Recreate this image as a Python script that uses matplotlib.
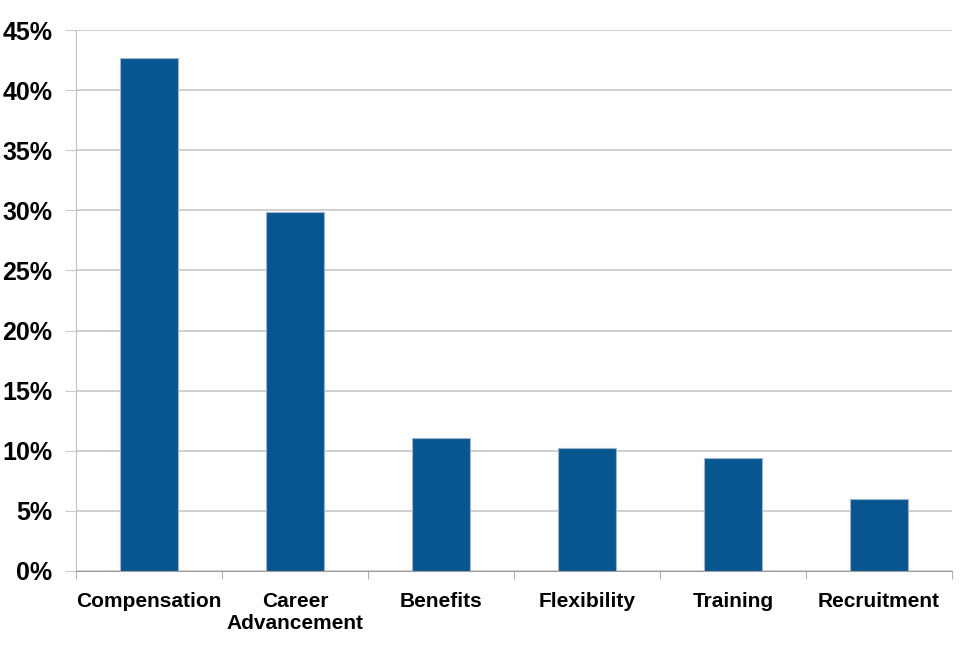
import numpy as np
import matplotlib.pyplot as plt
from matplotlib.ticker import FuncFormatter, MultipleLocator

# datos del grafico
categorias = ['Compensation', 'Career\nAdvancement', 'Benefits',
              'Flexibility', 'Training', 'Recruitment']
valores = [42.7, 29.9, 11.05, 10.2, 9.4, 6.0]

plt.rcParams['font.family'] = ['Liberation Sans', 'DejaVu Sans']
plt.rcParams['font.weight'] = 'bold'

fig = plt.figure(figsize=(9.63, 6.5), dpi=100)
ax = fig.add_axes([76 / 963, 79 / 650, 876 / 963, 541 / 650])

x = np.arange(len(categorias))
ax.bar(x, valores, width=0.4, color='#08568F', edgecolor='#9DB5CF', linewidth=0.8, zorder=3)

ax.set_xlim(-0.5, len(categorias) - 0.5)
ax.set_ylim(0, 45)
ax.yaxis.set_major_locator(MultipleLocator(5))
ax.yaxis.set_major_formatter(FuncFormatter(lambda v, p: f'{v:.0f}%'))
ax.grid(axis='y', color='#C8C8C8', linewidth=1.2, zorder=0)

ax.set_xticks(x)
ax.set_xticklabels(categorias, fontsize=15, fontweight='bold', linespacing=1.2)
ax.set_xticks(np.arange(len(categorias) + 1) - 0.5, minor=True)
ax.tick_params(axis='x', which='major', length=0, pad=15)
ax.tick_params(axis='x', which='minor', length=6, color='#A0A0A0', direction='out')
ax.tick_params(axis='y', labelsize=18, length=8, color='#C8C8C8', pad=9)
for t in ax.get_yticklabels():
    t.set_fontweight('bold')

for lado in ['top', 'right']:
    ax.spines[lado].set_visible(False)
ax.spines['left'].set_color('#C0C0C0')
ax.spines['bottom'].set_color('#A0A0A0')

plt.savefig('out.png', dpi=100)
